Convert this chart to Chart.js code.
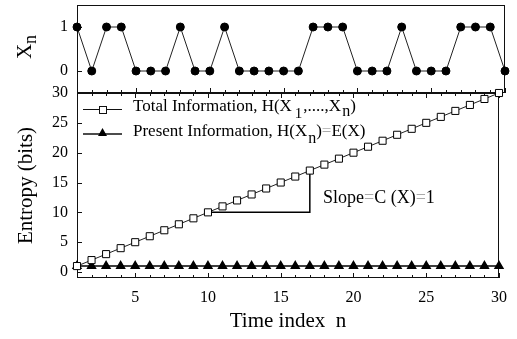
<!DOCTYPE html>
<html lang="en">
<head>
<meta charset="UTF-8">
<title>Total and present information vs time index</title>
<script src="https://cdn.jsdelivr.net/npm/chart.js@4.4.0/dist/chart.umd.min.js"></script>
<style>
    body { margin: 0; background: #fff; }
    .wrap { position: relative; width: 517px; height: 339px; }
    .wrap canvas { position: absolute; left: 0; top: 0; }
</style>
</head>
<body>
<div class="wrap">
    <canvas id="seqChart" width="517" height="339"></canvas>
    <canvas id="entropyChart" width="517" height="339"></canvas>
</div>
<script>
'use strict';

// data
const timeIndex = [1, 2, 3, 4, 5, 6, 7, 8, 9, 10, 11, 12, 13, 14, 15,
                   16, 17, 18, 19, 20, 21, 22, 23, 24, 25, 26, 27, 28, 29, 30];
const xnValues = [1, 0, 1, 1, 0, 0, 0, 1, 0, 0, 1, 0, 0, 0, 0,
                  0, 1, 1, 1, 0, 0, 0, 1, 0, 0, 0, 1, 1, 1, 0];
const totalInfo = [1, 2, 3, 4, 5, 6, 7, 8, 9, 10, 11, 12, 13, 14, 15,
                   16, 17, 18, 19, 20, 21, 22, 23, 24, 25, 26, 27, 28, 29, 30];
const presentInfo = [1, 1, 1, 1, 1, 1, 1, 1, 1, 1, 1, 1, 1, 1, 1,
                     1, 1, 1, 1, 1, 1, 1, 1, 1, 1, 1, 1, 1, 1, 1];
const slopeX = [10, 17, 17];
const slopeY = [10, 10, 17];
const xTicks = [5, 10, 15, 20, 25, 30];
const seqTicks = [0, 1];
const entropyTicks = [0, 5, 10, 15, 20, 25, 30];

const SERIF = '"Liberation Serif", "Times New Roman", serif';
const INK = '#111';

const pts = (xs, ys) => xs.map((x, i) => ({ x: x, y: ys[i] }));

// draws a row of text pieces (for subscripts and the pale "=" signs)
function drawRuns(ctx, x, y, runs, size) {
    ctx.textBaseline = 'alphabetic';
    ctx.textAlign = 'left';
    runs.forEach(r => {
        if (typeof r === 'string') r = { text: r };
        ctx.font = (r.size || size) + 'px ' + SERIF;
        ctx.fillStyle = r.color || '#000';
        ctx.fillText(r.text, x + (r.dx || 0), y + (r.dy || 0));
        x += ctx.measureText(r.text).width + (r.dx || 0) + (r.gap || 0);
    });
}

function hline(ctx, x1, x2, y) {
    ctx.beginPath();
    ctx.moveTo(x1, y);
    ctx.lineTo(x2, y);
    ctx.stroke();
}
function vline(ctx, x, y1, y2) {
    ctx.beginPath();
    ctx.moveTo(x, y1);
    ctx.lineTo(x, y2);
    ctx.stroke();
}

// box round the plot area, with inward tick marks
const frameTicks = {
    id: 'frameTicks',
    beforeDatasetsDraw(chart, args, opts) {
        const { ctx, chartArea: a, scales } = chart;
        ctx.save();
        ctx.strokeStyle = INK;
        ctx.lineWidth = 1;
        const L = a.left + 0.5, R = a.right - 0.5, T = Math.round(a.top) + 0.5, B = Math.round(a.bottom) - 0.5;
        vline(ctx, L, a.top, a.bottom);
        vline(ctx, R, a.top, a.bottom);
        ctx.lineWidth = opts.topWidth || 1;
        hline(ctx, a.left, a.right, opts.topWidth === 2 ? a.top : T);
        ctx.lineWidth = opts.bottomWidth || 1;
        hline(ctx, a.left, a.right, B);

        ctx.lineWidth = 1;
        scales.y.ticks.forEach(t => {
            const py = Math.round(scales.y.getPixelForValue(t.value)) + 0.5;
            hline(ctx, a.left, a.left + 5, py);
        });

        const xs = scales.x;
        for (let v = Math.ceil(xs.min); v <= xs.max; v++) {
            const px = Math.round(xs.getPixelForValue(v)) + 0.5;
            const len = v % 5 === 0 ? 5 : 3;
            (opts.xEdges || []).forEach(edge => {
                const y0 = edge === 'top' ? a.top : a.bottom;
                const dir = edge === 'top' ? 1 : -1;
                vline(ctx, px, y0, y0 + dir * len);
            });
        }
        ctx.restore();
    }
};

// rotated X_n axis label of the upper panel
const seqTitle = {
    id: 'seqTitle',
    afterDraw(chart) {
        const { ctx, chartArea: a } = chart;
        ctx.save();
        ctx.translate(31, (a.top + a.bottom) / 2 - 2);
        ctx.rotate(-Math.PI / 2);
        const runs = ['X', { text: 'n', size: 18, dy: 5 }];
        ctx.font = '21px ' + SERIF;
        const w = ctx.measureText('X').width + 9;
        drawRuns(ctx, -w / 2, 0, runs, 21);
        ctx.restore();
    }
};

// legend rows and slope annotation of the lower panel
const entropyNotes = {
    id: 'entropyNotes',
    afterDraw(chart) {
        const { ctx } = chart;
        ctx.save();
        ctx.strokeStyle = INK;
        ctx.lineWidth = 1;

        // row 1: line with open square
        hline(ctx, 83, 122, 109.5);
        ctx.fillStyle = '#fff';
        ctx.fillRect(99, 106, 7, 7);
        ctx.strokeRect(99.5, 106.5, 7, 7);
        // row 2: line with filled triangle
        ctx.lineWidth = 1.5;
        hline(ctx, 83, 122, 134);
        ctx.fillStyle = '#000';
        ctx.beginPath();
        ctx.moveTo(102.5, 128);
        ctx.lineTo(107, 136);
        ctx.lineTo(98, 136);
        ctx.closePath();
        ctx.fill();

        drawRuns(ctx, 133, 111, [
            'Total Information, H(X',
            { text: '1', size: 15, dy: 7, dx: 3, gap: 1 },
            ',....,X',
            { text: 'n', size: 16, dy: 5, dx: 1 },
            ')'
        ], 17);
        drawRuns(ctx, 133, 136, [
            'Present Information, H(X',
            { text: 'n', size: 16, dy: 7, dx: 1 },
            ')',
            { text: '=', color: '#aaa' },
            'E(X)'
        ], 17);

        drawRuns(ctx, 323, 203, [
            'Slope',
            { text: '=', color: '#aaa' },
            'C (X)',
            { text: '=', color: '#aaa' },
            '1'
        ], 18);
        ctx.restore();
    }
};

const tickFont = { family: SERIF, size: 16 };
const hideGrid = { display: false, drawTicks: false };

new Chart(document.getElementById('seqChart'), {
    type: 'line',
    data: {
        datasets: [{
            data: pts(timeIndex, xnValues),
            borderColor: '#222',
            borderWidth: 1,
            pointStyle: 'circle',
            pointRadius: 4,
            pointBackgroundColor: '#000',
            pointBorderColor: '#000',
            clip: false
        }]
    },
    options: {
        responsive: false,
        animation: false,
        layout: { padding: { top: 2, bottom: 246, left: 0, right: 12 } },
        plugins: {
            legend: { display: false },
            tooltip: { enabled: false },
            frameTicks: { xEdges: ['bottom'] }
        },
        scales: {
            x: { type: 'linear', min: 1, max: 30, display: false },
            y: {
                min: -0.5, max: 1.5,
                afterBuildTicks: s => { s.ticks = seqTicks.map(v => ({ value: v })); },
                afterFit: s => { s.width = 77; s.paddingTop = 0; s.paddingBottom = 0; },
                grid: hideGrid,
                border: { display: false },
                ticks: { padding: 9, color: '#000', font: tickFont }
            }
        }
    },
    plugins: [frameTicks, seqTitle]
});

new Chart(document.getElementById('entropyChart'), {
    type: 'line',
    data: {
        datasets: [{
            label: 'Total Information',
            data: pts(timeIndex, totalInfo),
            borderColor: '#222',
            borderWidth: 1,
            pointStyle: 'rect',
            pointRadius: 5,
            pointBorderWidth: 1,
            pointBackgroundColor: '#fff',
            pointBorderColor: '#000',
            clip: false
        }, {
            label: 'Present Information',
            data: pts(timeIndex, presentInfo),
            borderColor: '#000',
            borderWidth: 1.5,
            pointStyle: 'triangle',
            pointRadius: 4.5,
            pointBackgroundColor: '#000',
            pointBorderColor: '#000',
            clip: false
        }, {
            label: 'Slope',
            data: pts(slopeX, slopeY),
            borderColor: '#000',
            borderWidth: 1.5,
            pointRadius: 0
        }]
    },
    options: {
        responsive: false,
        animation: false,
        layout: { padding: { top: 93, bottom: 0, left: 0, right: 12 } },
        plugins: {
            legend: { display: false },
            tooltip: { enabled: false },
            frameTicks: { xEdges: ['top', 'bottom'], topWidth: 2, bottomWidth: 1 }
        },
        scales: {
            x: {
                type: 'linear', min: 1, max: 30,
                afterBuildTicks: s => { s.ticks = xTicks.map(v => ({ value: v })); },
                afterFit: s => { s.height = 61; },
                grid: hideGrid,
                border: { display: false },
                ticks: { padding: 10, color: '#000', font: tickFont, maxRotation: 0 },
                title: {
                    display: true, text: 'Time index  n', color: '#000',
                    font: { family: SERIF, size: 21 },
                    padding: { top: 0, bottom: 5 }
                }
            },
            y: {
                min: -1, max: 30,
                afterBuildTicks: s => { s.ticks = entropyTicks.map(v => ({ value: v })); },
                afterFit: s => { s.width = 77; },
                grid: hideGrid,
                border: { display: false },
                ticks: { padding: 9, color: '#000', font: tickFont },
                title: {
                    display: true, text: 'Entropy (bits)', color: '#000',
                    font: { family: SERIF, size: 21 },
                    padding: { top: 14, bottom: 0 }
                }
            }
        }
    },
    plugins: [frameTicks, entropyNotes]
});
</script>
</body>
</html>
